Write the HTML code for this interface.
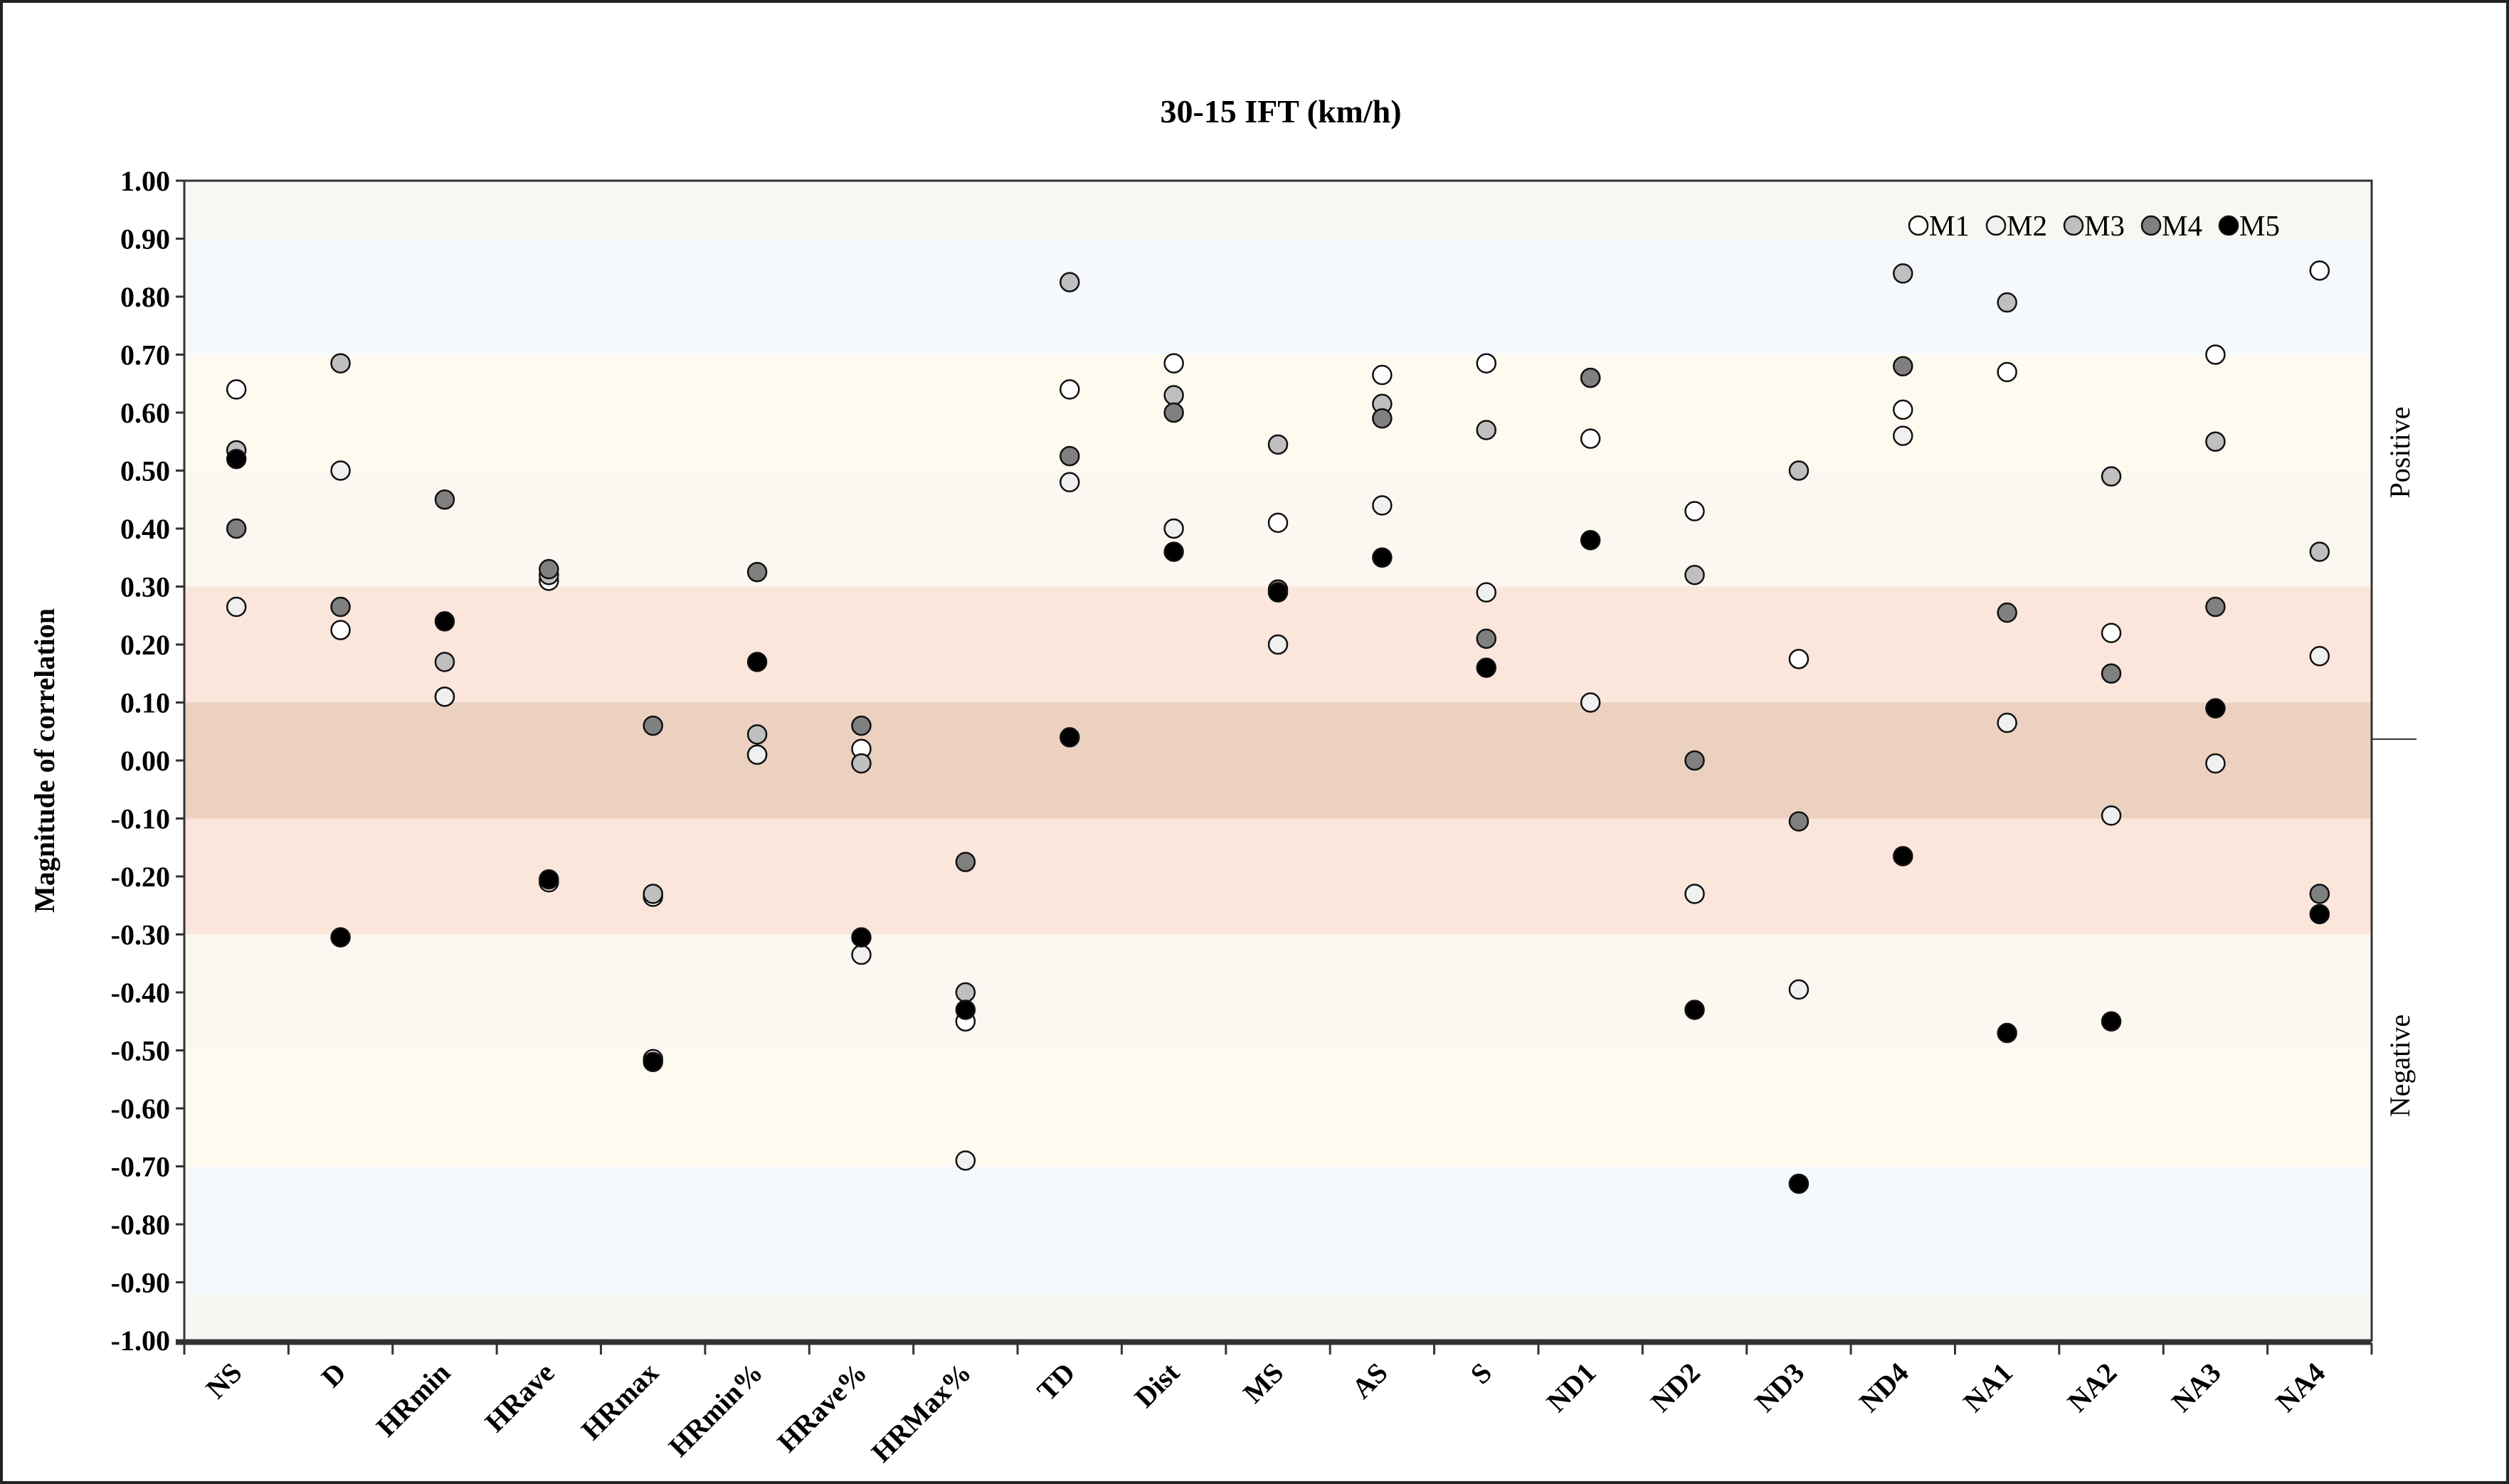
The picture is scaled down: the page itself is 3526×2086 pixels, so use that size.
<!DOCTYPE html>
<html><head><meta charset="utf-8"><style>
html,body{margin:0;padding:0;background:#fff}
svg{display:block}
text{font-family:"Liberation Serif",serif}
</style></head><body>
<svg id="chart" width="3526" height="2086" viewBox="0 0 3526 2086" xmlns="http://www.w3.org/2000/svg">
<rect x="2" y="2" width="3522" height="2082" fill="#fff" stroke="#222" stroke-width="4"/>
<text x="1800" y="172" font-size="46" font-weight="bold" text-anchor="middle">30-15 IFT (km/h)</text>
<g id="bands"></g>
<g id="axes"></g>
<g id="points"></g>
<text transform="translate(76,1069) rotate(-90)" font-size="40" font-weight="bold" text-anchor="middle">Magnitude of correlation</text>
<text transform="translate(3386,636) rotate(-90)" font-size="40" text-anchor="middle">Positive</text>
<text transform="translate(3386,1498) rotate(-90)" font-size="40" text-anchor="middle">Negative</text>
<line x1="3333" y1="1039" x2="3396" y2="1039" stroke="#333" stroke-width="2"/>
<g id="legend"></g>
</svg>
<script>
const categories=["NS","D","HRmin","HRave","HRmax","HRmin%","HRave%","HRMax%","TD","Dist","MS","AS","S","ND1","ND2","ND3","ND4","NA1","NA2","NA3","NA4"];
const m1=[0.64,0.225,0.11,0.31,-0.235,0.01,0.02,-0.45,0.64,0.685,0.41,0.665,0.685,0.555,0.43,0.175,0.605,0.67,0.22,0.70,0.845];
const m2=[0.265,0.50,0.11,-0.21,-0.515,0.01,-0.335,-0.69,0.48,0.40,0.20,0.44,0.29,0.10,-0.23,-0.395,0.56,0.065,-0.095,-0.005,0.18];
const m3=[0.535,0.685,0.17,0.32,-0.23,0.045,-0.005,-0.40,0.825,0.63,0.545,0.615,0.57,0.66,0.32,0.50,0.84,0.79,0.49,0.55,0.36];
const m4=[0.40,0.265,0.45,0.33,0.06,0.325,0.06,-0.175,0.525,0.60,0.295,0.59,0.21,0.66,0.0,-0.105,0.68,0.255,0.15,0.265,-0.23];
const m5=[0.52,-0.305,0.24,-0.205,-0.52,0.17,-0.305,-0.43,0.04,0.36,0.29,0.35,0.16,0.38,-0.43,-0.73,-0.165,-0.47,-0.45,0.09,-0.265];
const yTicks=[1,0.9,0.8,0.7,0.6,0.5,0.4,0.3,0.2,0.1,0,-0.1,-0.2,-0.3,-0.4,-0.5,-0.6,-0.7,-0.8,-0.9,-1];
const seriesNames=["M1","M2","M3","M4","M5"];
const NS="http://www.w3.org/2000/svg";
const L=259,R=3333,T=254,B=1884;
const y=v=>T+(1-v)/2*(B-T);
const bw=(R-L)/categories.length;
const x=i=>L+bw*(i+0.5);
function mk(tag,attrs,parent){const e=document.createElementNS(NS,tag);for(const k in attrs)e.setAttribute(k,attrs[k]);parent.appendChild(e);return e;}
const bands=document.getElementById('bands');
const bandDefs=[[1,0.9,"#f5f9f1"],[0.9,0.7,"#f5f8fd"],[0.7,0.5,"#fefaf0"],[0.5,0.3,"#fdf7f1"],[0.3,0.1,"#fbe6dc"],[0.1,-0.1,"#ecd1c1"],[-0.1,-0.3,"#fbe6dc"],[-0.3,-0.5,"#fdf7f1"],[-0.5,-0.7,"#fefaf0"],[-0.7,-0.92,"#f5f8fd"],[-0.92,-1,"#f5f8f1"]];
bandDefs.forEach(b=>{const r=mk('rect',{x:L,y:y(b[0]),width:R-L,height:y(b[1])-y(b[0]),fill:b[2]},bands);

});
const axes=document.getElementById('axes');
mk('rect',{x:L,y:T,width:R-L,height:B-T,fill:"none",stroke:"#333","stroke-width":3},axes);
mk('line',{x1:L-12,y1:B+4,x2:R,y2:B+4,stroke:"#333","stroke-width":5},axes);
yTicks.forEach(v=>{mk('line',{x1:L-12,y1:y(v),x2:L,y2:y(v),stroke:"#333","stroke-width":3},axes);
const t=mk('text',{x:L-20,y:y(v)+14,"font-size":40,"font-weight":"bold","text-anchor":"end"},axes);t.textContent=v.toFixed(2);

});
for(let i=0;i<=categories.length;i++){mk('line',{x1:L+bw*i,y1:B+4,x2:L+bw*i,y2:B+20,stroke:"#333","stroke-width":3},axes);}
categories.forEach((c,i)=>{const t=mk('text',{transform:`translate(${x(i)+10},${B+48}) rotate(-45)`,"font-size":40,"font-weight":"bold","text-anchor":"end"},axes);t.textContent=c;

});
const fills=["#ffffff","#f0f0f0","#bfbfbf","#808080","#000000"];
const series=[m1,m2,m3,m4,m5];
const pts=document.getElementById('points');
series.forEach((s,k)=>{s.forEach((v,i)=>{const c=mk('circle',{cx:x(i),cy:y(v),r:13,fill:fills[k],stroke:"#111","stroke-width":2.5},pts);

});});
const lg=document.getElementById('legend');
seriesNames.forEach((n,k)=>{const cx=2696+k*109;
const c=mk('circle',{cx:cx,cy:317,r:13,fill:fills[k],stroke:"#111","stroke-width":2.5},lg);


const t=mk('text',{x:cx+15,y:331,"font-size":41},lg);t.textContent=n;

});
</script>
</body></html>
